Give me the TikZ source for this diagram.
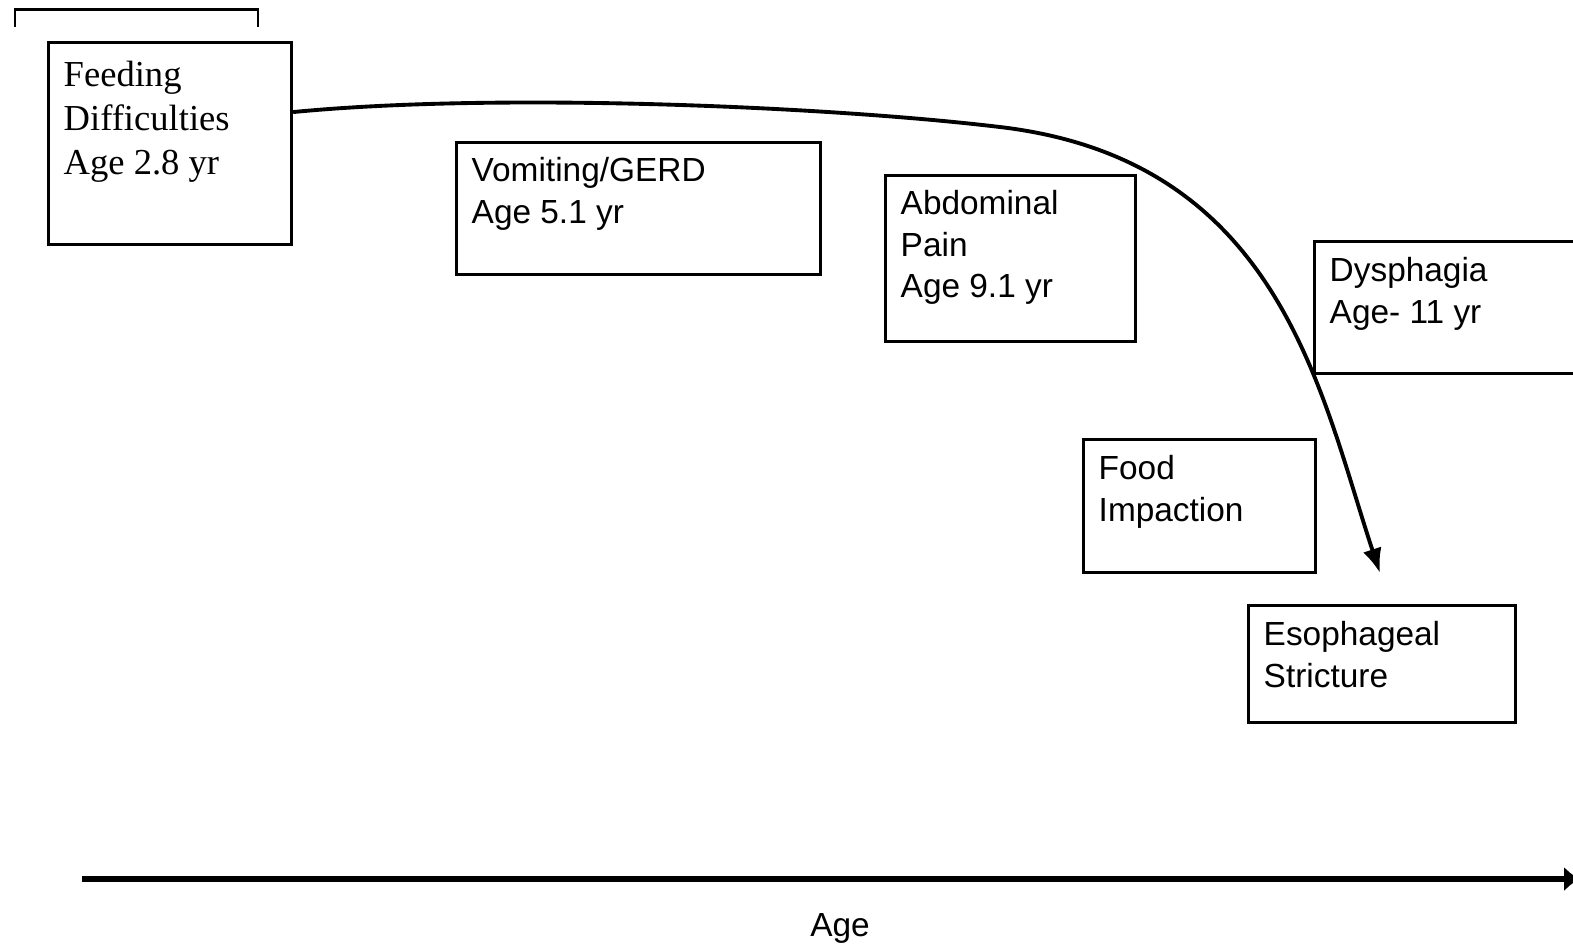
\documentclass[tikz,border=0pt]{standalone}
\usepackage{fontspec}
\setmainfont{Liberation Serif}
\newfontfamily\arialfont{Liberation Sans}
\usetikzlibrary{arrows.meta,positioning}

\begin{document}
\begin{tikzpicture}[x=0.01cm,y=-0.01cm,
	box/.style={draw,line width=0.85pt,inner sep=0,anchor=north west},
	lbl/.style={inner sep=0,align=left,font=\arialfont\fontsize{9.5}{11.7}\selectfont},
	serif/.style={inner sep=0,align=left,font=\fontsize{10.4}{12.5}\selectfont}]
	%%%%% START %%%%%
	
	\useasboundingbox (0,0) rectangle (1573,947);
	
	% box cut off at the top
	\draw[line width=0.85pt] (15,27) -- (15,9) -- (258,9) -- (258,27);
	
	\node[box,minimum width=2.43cm,minimum height=2.02cm] (feed) at (47,41) {};
	\node[serif,below right=0.19cm and 0.16cm of feed.north west] (feedtxt) {Feeding\\Difficulties\\Age 2.8 yr};
	
	\node[box,minimum width=3.64cm,minimum height=1.32cm] (vomit) at (455,141) {};
	\node[lbl,below right=0.16cm and 0.16cm of vomit.north west] (vomittxt) {Vomiting/GERD\\Age 5.1 yr};
	
	\node[box,minimum width=2.50cm,minimum height=1.66cm] (abdo) at (884,174) {};
	\node[lbl,below right=0.16cm and 0.16cm of abdo.north west] (abdotxt) {Abdominal\\Pain\\Age 9.1 yr};
	
	\node[box,minimum width=3.00cm,minimum height=1.32cm] (dysph) at (1313,240) {};
	\node[lbl,below right=0.17cm and 0.16cm of dysph.north west] (dysphtxt) {Dysphagia\\Age- 11 yr};
	
	\node[box,minimum width=2.32cm,minimum height=1.33cm] (food) at (1082,438) {};
	\node[lbl,below right=0.17cm and 0.16cm of food.north west] (foodtxt) {Food\\Impaction};
	
	\node[box,minimum width=2.67cm,minimum height=1.17cm] (stric) at (1247,604) {};
	\node[lbl,below right=0.17cm and 0.16cm of stric.north west] (strictxt) {Esophageal\\Stricture};
	
	% course of symptoms
	\coordinate (tip) at (1380,573);
	\draw[line width=1.1pt,-{Latex[length=7pt,width=5.5pt]}] ([yshift=-0.71cm]feed.north east)
		.. controls (500,92) and (830,106.6) .. (1000,127)
		.. controls (1280,160) and (1320,392) .. (tip);
	
	% age axis
	\coordinate (ax0) at (82,879);
	\coordinate (ax1) at (1580,879);
	\draw[line width=1.8pt,-{Latex[length=4.5pt,width=7pt]}] (ax0) -- (ax1);
	\node[lbl] (agelbl) at (840,928) {Age};
	
	%%%%% END %%%%%
\end{tikzpicture}
\end{document}
